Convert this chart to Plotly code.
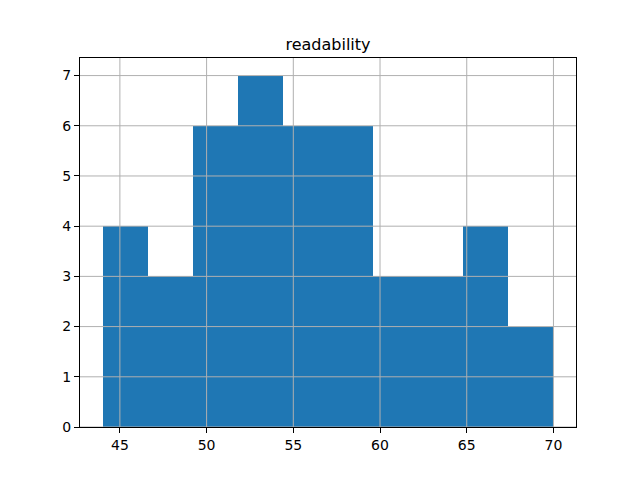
import plotly.graph_objects as go

bin_edges = [44.0, 46.6, 49.2, 51.8, 54.4, 57.0, 59.6, 62.2, 64.8, 67.4, 70.0]
counts = [4, 3, 6, 7, 6, 6, 3, 3, 4, 2]
x_ticks = [45, 50, 55, 60, 65, 70]
y_ticks = [0, 1, 2, 3, 4, 5, 6, 7]
title_text = "readability"

centers = [(a + b) / 2 for a, b in zip(bin_edges[:-1], bin_edges[1:])]
widths = [b - a for a, b in zip(bin_edges[:-1], bin_edges[1:])]

fig = go.Figure(go.Bar(x=centers, y=counts, width=widths,
                       marker=dict(color="#1f77b4", line=dict(width=0))))

xr = [42.7, 71.3]
yr = [0, 7.35]

shapes = []
for t in x_ticks:
    shapes.append(dict(type="line", xref="x", yref="paper", x0=t, x1=t, y0=0, y1=1,
                       line=dict(color="#b0b0b0", width=1), layer="above"))
for t in y_ticks:
    shapes.append(dict(type="line", xref="paper", yref="y", x0=0, x1=1, y0=t, y1=t,
                       line=dict(color="#b0b0b0", width=1), layer="above"))

fig.update_layout(
    width=640, height=480,
    margin=dict(l=80, r=64, t=58, b=53),
    paper_bgcolor="white", plot_bgcolor="white",
    font=dict(family="DejaVu Sans", size=13, color="black"),
    title=dict(text=title_text, x=0.5, xanchor="center", xref="paper",
               y=1 - 44/480, yanchor="middle", font=dict(size=16)),
    showlegend=False,
    shapes=shapes,
    bargap=0,
)
fig.update_xaxes(range=xr, tickvals=x_ticks, ticktext=[str(t) for t in x_ticks],
                 showgrid=False, zeroline=False, showline=True, linecolor="black",
                 linewidth=1, mirror=True, ticks="outside", ticklen=5, tickcolor="black",
                 tickfont=dict(size=14))
fig.update_yaxes(range=yr, tickvals=y_ticks, ticktext=[str(t) for t in y_ticks],
                 showgrid=False, zeroline=False, showline=True, linecolor="black",
                 linewidth=1, mirror=True, ticks="outside", ticklen=5, tickcolor="black",
                 tickfont=dict(size=14))

fig.write_html("out.html")
